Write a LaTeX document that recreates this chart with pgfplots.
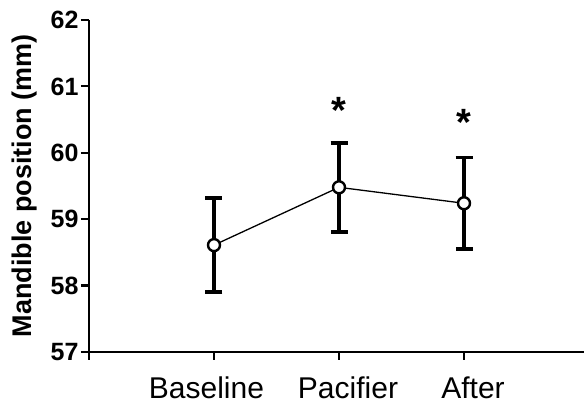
\documentclass[border=0pt]{standalone}
\usepackage{fontspec}
\setmainfont{Liberation Sans}
\usepackage{pgfplots}
\pgfplotsset{compat=1.18}
\begin{document}
\begin{tikzpicture}
\begin{axis}[
  name=ax,
  scale only axis, width=495pt, height=332pt,
  xmin=0, xmax=3.96, ymin=57, ymax=62,
  axis lines*=left, axis line style={line width=2.6pt, -},
  xtick={0,1,2,3},
  xticklabels={,\hspace*{-15pt}Baseline,\hspace*{18pt}Pacifier,\hspace*{18pt}After},
  ytick={57,58,59,60,61,62},
  tick align=outside, major tick length=8pt,
  tick style={line width=2.2pt, black},
  /pgf/number format/assume math mode=true,
  yticklabel style={font=\fontsize{25}{25}\selectfont\bfseries, xshift=1pt},
  xticklabel style={font=\fontsize{30}{30}\selectfont, anchor=base, yshift=-39pt,
    inner sep=0pt},
  ylabel={Mandible position (mm)},
  ylabel style={font=\fontsize{27}{27}\selectfont\bfseries,
    at={(axis description cs:0,0.5)}, anchor=center, yshift=64pt},
  clip=false,
]
\addplot[black, line width=1.3pt, mark=*, mark size=6pt,
  mark options={fill=white, line width=2.4pt},
  error bars/.cd, y dir=both, y explicit,
  error bar style={line width=3.2pt},
  error mark options={rotate=90, mark size=8.5pt, line width=3.6pt}]
  coordinates {(1,58.61) +- (0,0.71) (2,59.48) +- (0,0.67) (3,59.24) +- (0,0.69)};
\node[font=\fontsize{38}{38}\selectfont\bfseries] at (axis cs:2,60.64) {*};
\node[font=\fontsize{38}{38}\selectfont\bfseries] at (axis cs:3,60.45) {*};
\end{axis}
\pgfresetboundingbox
\path[use as bounding box] ([xshift=-89pt,yshift=-56pt]ax.south west) rectangle ([yshift=20pt]ax.north east);
\end{tikzpicture}
\end{document}
